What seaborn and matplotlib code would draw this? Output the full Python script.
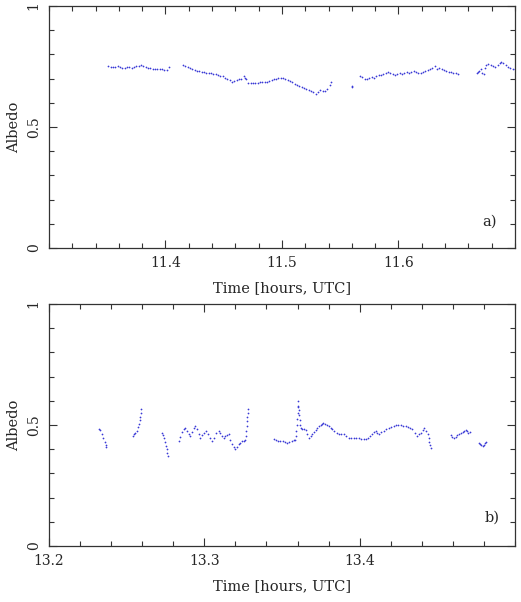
import numpy as np
import pandas as pd
import seaborn as sns
import matplotlib
matplotlib.use('Agg')
import matplotlib.pyplot as plt
from matplotlib.ticker import MultipleLocator

# panel a) data
a_time = [11.351, 11.353, 11.355, 11.357, 11.359, 11.361, 11.363, 11.365, 11.367, 11.369,
          11.371, 11.373, 11.375, 11.377, 11.379, 11.381, 11.383, 11.385, 11.387, 11.389,
          11.391, 11.393, 11.395, 11.397, 11.399, 11.401, 11.403,
          11.415, 11.417, 11.419, 11.421, 11.423, 11.425, 11.427, 11.429, 11.431, 11.433,
          11.435, 11.437, 11.439, 11.441, 11.443, 11.445, 11.447, 11.449, 11.451, 11.453,
          11.455, 11.457, 11.459, 11.461, 11.463, 11.465,
          11.467, 11.468, 11.469,
          11.471, 11.473, 11.475, 11.477, 11.479, 11.481, 11.483, 11.485, 11.487, 11.489,
          11.491, 11.493, 11.495, 11.497, 11.499, 11.501, 11.503, 11.505, 11.507, 11.509,
          11.511, 11.513, 11.515, 11.517, 11.519, 11.521, 11.523, 11.525, 11.527, 11.529,
          11.531, 11.533, 11.535, 11.537, 11.539, 11.541, 11.542,
          11.5600, 11.5605,
          11.567, 11.569, 11.571, 11.573, 11.575, 11.577, 11.579, 11.581, 11.583, 11.585,
          11.587, 11.589, 11.591, 11.593, 11.595, 11.597, 11.599, 11.601, 11.603, 11.605,
          11.607, 11.609, 11.611, 11.613, 11.615, 11.617, 11.619, 11.621, 11.623, 11.625,
          11.627, 11.629, 11.631, 11.633, 11.635, 11.637, 11.639, 11.641, 11.643, 11.645,
          11.647, 11.649, 11.651,
          11.667, 11.668, 11.669, 11.671, 11.672, 11.673, 11.674, 11.675, 11.677, 11.679,
          11.681, 11.683, 11.685, 11.687, 11.688, 11.690, 11.692, 11.694, 11.696, 11.698,
          11.700]
a_albedo = [0.752, 0.750, 0.747, 0.749, 0.752, 0.748, 0.743, 0.745, 0.748, 0.746,
            0.742, 0.747, 0.751, 0.753, 0.756, 0.752, 0.748, 0.744, 0.742, 0.741,
            0.739, 0.738, 0.739, 0.738, 0.736, 0.734, 0.746,
            0.756, 0.753, 0.749, 0.745, 0.741, 0.737, 0.733, 0.731, 0.729, 0.727,
            0.725, 0.723, 0.722, 0.720, 0.718, 0.715, 0.712, 0.709, 0.704, 0.699,
            0.693, 0.688, 0.691, 0.694, 0.697, 0.699,
            0.712, 0.704, 0.697,
            0.681, 0.680, 0.681, 0.682, 0.683, 0.684, 0.685, 0.686, 0.688, 0.691,
            0.694, 0.697, 0.699, 0.702, 0.704, 0.704, 0.700, 0.696, 0.691, 0.685,
            0.679, 0.674, 0.669, 0.665, 0.662, 0.658, 0.654, 0.649, 0.643, 0.637,
            0.645, 0.652, 0.648, 0.650, 0.658, 0.672, 0.685,
            0.665, 0.670,
            0.712, 0.705, 0.699, 0.697, 0.703, 0.707, 0.703, 0.712, 0.716, 0.713,
            0.721, 0.725, 0.728, 0.722, 0.719, 0.716, 0.721, 0.723, 0.720, 0.724,
            0.726, 0.723, 0.728, 0.730, 0.727, 0.725, 0.723, 0.727, 0.731, 0.734,
            0.738, 0.744, 0.752, 0.740, 0.744, 0.741, 0.736, 0.732, 0.729, 0.727,
            0.725, 0.722, 0.719,
            0.722, 0.728, 0.733, 0.738, 0.724, 0.719, 0.745, 0.756, 0.762, 0.758,
            0.752, 0.750, 0.756, 0.765, 0.770, 0.764, 0.756, 0.749, 0.743, 0.741,
            0.739]

# panel b) data
b_time = [13.2325, 13.2330, 13.2340, 13.2350, 13.2358, 13.2364, 13.2368,
          13.2540, 13.2548, 13.2556, 13.2566, 13.2574, 13.2580, 13.2584, 13.2588, 13.2590, 13.2592,
          13.2727, 13.2735, 13.2742, 13.2748, 13.2754, 13.2758, 13.2762, 13.2766,
          13.2834, 13.2845, 13.2855, 13.2866, 13.2877, 13.2888, 13.2899, 13.2910, 13.2921, 13.2932,
          13.2942, 13.2953, 13.2964, 13.2974, 13.2987, 13.3000, 13.3013, 13.3025, 13.3038, 13.3050,
          13.3064, 13.3078, 13.3092, 13.3103, 13.3114, 13.3125, 13.3136, 13.3147, 13.3157, 13.3168,
          13.3179, 13.3190, 13.3200, 13.3210, 13.3221, 13.3232, 13.3243, 13.3254, 13.3262, 13.3268,
          13.3271, 13.3273, 13.3275, 13.3277, 13.3279, 13.3280,
          13.3447, 13.3460, 13.3475, 13.3490, 13.3505, 13.3520, 13.3533, 13.3548, 13.3562, 13.3576,
          13.3586, 13.3590, 13.3593, 13.3596, 13.3598, 13.3600, 13.3601, 13.3602, 13.3605, 13.3608,
          13.3611, 13.3614, 13.3617, 13.3620, 13.3630, 13.3641, 13.3652, 13.3662, 13.3673, 13.3684,
          13.3695, 13.3706, 13.3717, 13.3727, 13.3738, 13.3749, 13.3759, 13.3766, 13.3777, 13.3788,
          13.3800, 13.3813, 13.3825, 13.3838, 13.3851, 13.3866, 13.3880, 13.3899, 13.3915, 13.3931,
          13.3947, 13.3963, 13.3979, 13.3995, 13.4010, 13.4025, 13.4040, 13.4052, 13.4067, 13.4080,
          13.4092, 13.4103, 13.4114, 13.4125, 13.4140, 13.4157, 13.4172, 13.4188, 13.4203, 13.4218,
          13.4232, 13.4248, 13.4264, 13.4280, 13.4296, 13.4312, 13.4326, 13.4340, 13.4356, 13.4372,
          13.4383, 13.4394, 13.4405, 13.4415, 13.4426, 13.4437, 13.4444, 13.4449, 13.4453, 13.4458,
          13.4587, 13.4597, 13.4607, 13.4617, 13.4628, 13.4640, 13.4652, 13.4662, 13.4672, 13.4682,
          13.4690, 13.4700, 13.4710,
          13.4768, 13.4776, 13.4784, 13.4792, 13.4800, 13.4808, 13.4813]
b_albedo = [0.485, 0.478, 0.462, 0.445, 0.430, 0.418, 0.408,
            0.455, 0.462, 0.468, 0.476, 0.490, 0.505, 0.520, 0.535, 0.550, 0.565,
            0.468, 0.458, 0.445, 0.430, 0.415, 0.400, 0.386, 0.372,
            0.434, 0.452, 0.472, 0.485, 0.489, 0.476, 0.462, 0.455, 0.470, 0.486,
            0.496, 0.482, 0.462, 0.448, 0.458, 0.468, 0.475, 0.462, 0.446, 0.434,
            0.448, 0.465, 0.475, 0.466, 0.455, 0.448, 0.454, 0.460, 0.462, 0.440,
            0.420, 0.408, 0.400, 0.410, 0.420, 0.427, 0.432, 0.434, 0.440, 0.455,
            0.475, 0.495, 0.515, 0.535, 0.550, 0.565,
            0.441, 0.438, 0.436, 0.434, 0.432, 0.430, 0.427, 0.430, 0.434, 0.437,
            0.440, 0.455, 0.475, 0.500, 0.525, 0.550, 0.575, 0.599, 0.580, 0.560,
            0.540, 0.520, 0.500, 0.489, 0.482, 0.485, 0.478, 0.462, 0.448, 0.455,
            0.462, 0.470, 0.478, 0.486, 0.494, 0.500, 0.506, 0.510, 0.503, 0.498,
            0.496, 0.489, 0.482, 0.475, 0.468, 0.462, 0.462, 0.464, 0.456, 0.448,
            0.448, 0.447, 0.446, 0.445, 0.442, 0.441, 0.443, 0.448, 0.455, 0.462,
            0.470, 0.475, 0.468, 0.462, 0.470, 0.475, 0.482, 0.488, 0.492, 0.496,
            0.499, 0.500, 0.498, 0.496, 0.494, 0.490, 0.486, 0.482, 0.468, 0.455,
            0.462, 0.468, 0.478, 0.487, 0.476, 0.462, 0.445, 0.430, 0.418, 0.405,
            0.460, 0.452, 0.445, 0.452, 0.460, 0.462, 0.466, 0.470, 0.474, 0.478,
            0.476, 0.466, 0.470,
            0.427, 0.422, 0.417, 0.412, 0.417, 0.424, 0.430]

sns.set_style('ticks')
plt.rcParams['font.family'] = ['DejaVu Serif']
plt.rcParams['font.size'] = 10

fig = plt.figure(figsize=(5.21, 6.02), dpi=100)
ax_a = fig.add_axes([0.094, 0.588, 0.8945, 0.402])
ax_b = fig.add_axes([0.094, 0.093, 0.8945, 0.402])

dot_color = '#3a3ad6'

def style_axis(ax, xlim, xmajor, label_text, label_pos):
    ax.set_xlim(*xlim)
    ax.set_ylim(0, 1)
    ax.set_xticks(xmajor)
    ax.set_xticklabels([f'{v:.1f}' for v in xmajor])
    ax.xaxis.set_minor_locator(MultipleLocator(0.02))
    ax.set_yticks([0, 0.5, 1])
    ax.set_yticklabels(['0', '0.5', '1'])
    ax.yaxis.set_minor_locator(MultipleLocator(0.1))
    ax.tick_params(which='both', direction='in', top=True, right=True,
                   color='#333333', width=0.8)
    ax.tick_params(which='major', length=6)
    ax.tick_params(which='minor', length=3.5)
    ax.tick_params(axis='x', pad=6)
    ax.tick_params(axis='y', labelrotation=90, pad=6)
    for lab in ax.get_yticklabels():
        lab.set_va('center')
    for sp in ax.spines.values():
        sp.set_color('#333333')
        sp.set_linewidth(0.9)
    ax.set_xlabel('Time [hours, UTC]', labelpad=8, fontsize=10.5)
    ax.set_ylabel('Albedo', labelpad=4, fontsize=10.5)
    ax.text(label_pos[0], label_pos[1], label_text, transform=ax.transAxes,
            ha='center', va='center', fontsize=10.5)

sns.scatterplot(x=a_time, y=a_albedo, ax=ax_a, s=1.6, color=dot_color, linewidth=0)
style_axis(ax_a, (11.3, 11.7), [11.4, 11.5, 11.6], 'a)', (0.945, 0.108))

sns.scatterplot(x=b_time, y=b_albedo, ax=ax_b, s=1.6, color=dot_color, linewidth=0)
style_axis(ax_b, (13.2, 13.5), [13.2, 13.3, 13.4], 'b)', (0.952, 0.116))

fig.savefig('out.png', dpi=100)
